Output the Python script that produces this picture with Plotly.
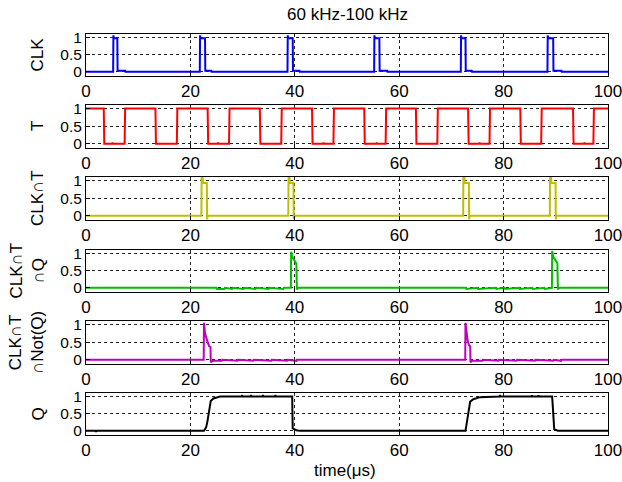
import plotly.graph_objects as go

# ---- signal traces (time in microseconds, logic level 0..1) ----
clk_t = [0, 5.2, 5.25, 5.35, 6.0, 6.05, 7.5, 7.55,
         21.8, 21.85, 21.95, 22.8, 22.85, 24.0, 24.05,
         38.6, 38.65, 38.75, 39.6, 39.65, 40.9, 40.95,
         55.2, 55.25, 55.35, 56.2, 56.25, 57.7, 57.75,
         71.8, 71.85, 71.95, 72.7, 72.75, 73.9, 73.95,
         88.4, 88.45, 88.55, 89.5, 89.55, 91.1, 91.15, 100]
clk_v = [0, 0, 1.06, 0.98, 0.98, 0.03, 0.03, 0,
         0, 1.06, 0.98, 0.98, 0.03, 0.03, 0,
         0, 1.06, 0.98, 0.98, 0.03, 0.03, 0,
         0, 1.06, 0.98, 0.98, 0.03, 0.03, 0,
         0, 1.06, 0.98, 0.98, 0.03, 0.03, 0,
         0, 1.06, 0.98, 0.98, 0.03, 0.03, 0, 0]

t_t = [0, 3.4, 3.5, 5.0, 5.1, 5.2, 7.4, 7.5, 13.3, 13.4, 17.4, 17.5,
       23.3, 23.4, 25.2, 25.3, 25.4, 27.4, 27.5, 33.3, 33.4, 37.4, 37.5,
       43.3, 43.4, 45.4, 45.5, 45.6, 47.4, 47.5, 53.3, 53.4, 55.6, 55.7, 55.8, 57.4, 57.5,
       63.2, 63.3, 67.3, 67.4, 73.2, 73.3, 75.3, 75.4, 75.5, 77.3, 77.4,
       83.2, 83.3, 87.2, 87.3, 93.3, 93.4, 95.4, 95.5, 95.6, 97.2, 97.3, 100]
t_v = [1, 1, 0, 0, 0.03, 0, 0, 1, 1, 0, 0, 1,
       1, 0, 0, 0.03, 0, 0, 1, 1, 0, 0, 1,
       1, 0, 0, 0.03, 0, 0, 1, 1, 0, 0, 0.03, 0, 0, 1,
       1, 0, 0, 1, 1, 0, 0, 0.03, 0, 0, 1,
       1, 0, 0, 1, 1, 0, 0, 0.03, 0, 0, 1, 1]

clk_and_t_t = [0, 22.1, 22.15, 22.35, 22.4, 23.15, 23.2, 23.3,
               38.75, 38.8, 39.0, 39.05, 39.75, 39.8, 39.9,
               72.25, 72.3, 72.5, 72.55, 73.35, 73.4, 73.5,
               88.85, 88.9, 89.1, 89.15, 89.95, 90.0, 90.1, 100]
clk_and_t_v = [0, 0, 1.07, 1.07, 0.93, 0.93, -0.1, 0,
               0, 1.07, 1.07, 0.93, 0.93, -0.1, 0,
               0, 1.07, 1.07, 0.93, 0.93, -0.1, 0,
               0, 1.07, 1.07, 0.93, 0.93, -0.1, 0, 0]

and_q_t = [0, 25.0, 25.1, 26.5, 26.6, 28.0, 28.1, 30.2, 30.3, 32.5, 32.6,
           35.0, 35.1, 37.8, 37.9, 39.25, 39.3, 39.5, 40.0, 40.3, 40.4, 40.6,
           72.8, 72.9, 75.0, 75.1, 78.5, 78.6, 80.2, 80.3, 83.0, 83.1,
           85.5, 85.6, 87.8, 87.9, 89.25, 89.3, 89.5, 90.0, 90.3, 90.4, 90.6, 100]
and_q_v = [0, 0, -0.03, -0.03, 0, -0.03, 0, -0.03, 0, -0.03, 0,
           -0.03, 0, -0.03, 0, 0, 1.05, 0.9, 0.78, 0.7, -0.05, 0,
           0, -0.03, 0, -0.03, 0, -0.03, 0, -0.03, 0, -0.03,
           0, -0.03, 0, -0.03, 0, 1.07, 0.9, 0.78, 0.72, -0.05, 0, 0]

and_notq_t = [0, 22.55, 22.6, 22.8, 23.3, 23.6, 23.85, 23.9, 24.3,
              26.0, 26.1, 29.0, 29.1, 32.0, 32.1, 35.5, 35.6, 38.5, 38.6, 40.3, 40.4,
              72.65, 72.7, 72.9, 73.1, 73.35, 73.6, 73.65, 74.0,
              76.0, 76.1, 79.0, 79.1, 82.5, 82.6, 86.0, 86.1, 89.5, 89.6, 91.0, 91.1, 100]
and_notq_v = [0, 0, 1.05, 0.75, 0.5, 0.38, 0.36, -0.07, -0.03,
              -0.03, 0, -0.03, 0, -0.03, 0, -0.03, 0, -0.03, 0, -0.03, 0,
              0, 1.05, 0.75, 0.55, 0.42, 0.38, -0.07, -0.03,
              -0.03, 0, -0.03, 0, -0.03, 0, -0.03, 0, -0.03, 0, -0.03, 0, 0]

q_t = [0, 1.8, 1.9, 2.0, 22.6, 23.0, 23.2, 23.6, 23.9, 24.4, 25.7,
       29.8, 29.9, 30.0, 31.5, 31.6, 31.7, 33.8, 33.9, 34.0, 36.2, 36.3, 36.4,
       39.5, 39.6, 40.3, 41.0,
       72.7, 72.9, 73.2, 73.6, 74.2, 75.5, 79.2, 79.3, 79.4,
       85.3, 85.4, 85.5, 86.6, 86.7, 86.8, 89.3, 89.7, 90.4, 100]
q_v = [0, 0, -0.03, 0, 0, 0.1, 0.22, 0.57, 0.87, 0.94, 1.0,
       1.0, 1.04, 1.0, 1.0, 1.04, 1.0, 1.0, 1.04, 1.0, 1.0, 1.04, 1.0,
       1.0, 0.07, 0.02, 0,
       0, 0.2, 0.52, 0.85, 0.92, 0.98, 1.0, 1.04, 1.0,
       1.0, 1.03, 1.0, 1.0, 1.03, 1.0, 1.0, 0.05, 0, 0]

x_ticks = [0, 20, 40, 60, 80, 100]
y_ticks = [0, 0.5, 1]
y_tick_text = ["0", "0.5", "1"]

panels = [
    (clk_t, clk_v, "#0000FF", "CLK"),
    (t_t, t_v, "#FF0000", "T"),
    (clk_and_t_t, clk_and_t_v, "#BFBF00", "CLK\u2229T"),
    (and_q_t, and_q_v, "#00BF00", "CLK\u2229T<br>\u2229Q"),
    (and_notq_t, and_notq_v, "#BF00BF", "CLK\u2229T<br>\u2229Not(Q)"),
    (q_t, q_v, "#000000", "Q"),
]

title_text = "60 kHz-100 kHz"
x_label = "time(\u03bcs)"

# ---- layout geometry ----
W, H = 622, 482
ML, MR, MT, MB = 86, 14, 34, 47
plot_h = H - MT - MB
panel_px = [(34, 76), (105, 148), (177, 220), (250, 292), (321, 364), (393, 435)]


def to_paper_y(py):
    return (H - MB - py) / plot_h


def to_paper_x(px):
    return (px - ML) / (W - ML - MR)


FONT = "Liberation Sans, Arial, sans-serif"
fig = go.Figure()
layout = dict(
    width=W, height=H,
    margin=dict(l=ML, r=MR, t=MT, b=MB, autoexpand=False),
    paper_bgcolor="white", plot_bgcolor="white",
    showlegend=False,
    font=dict(family=FONT, size=17, color="black"),
)
annotations = []

for i, (xs, ys, color, label) in enumerate(panels):
    n = i + 1
    xa = "x" if n == 1 else f"x{n}"
    ya = "y" if n == 1 else f"y{n}"
    fig.add_trace(go.Scatter(x=xs, y=ys, mode="lines", xaxis=xa, yaxis=ya,
                             line=dict(color=color, width=2), hoverinfo="skip"))
    top, bot = panel_px[i]
    axis_common = dict(
        showline=True, mirror=True, linecolor="black", linewidth=1,
        ticks="inside", ticklen=4, tickcolor="black",
        showgrid=True, gridcolor="#222222", gridwidth=1, griddash="3px,3px",
        zeroline=False, fixedrange=True, automargin=False,
    )
    layout["xaxis" if n == 1 else f"xaxis{n}"] = dict(
        axis_common, domain=[0, 1], anchor=ya, range=[0, 100],
        tickmode="array", tickvals=x_ticks, ticklabeloverflow="allow",
        tickfont=dict(family=FONT, size=17, color="black"),
    )
    layout["yaxis" if n == 1 else f"yaxis{n}"] = dict(
        axis_common, domain=[to_paper_y(bot), to_paper_y(top)], anchor=xa,
        range=[-0.12, 1.1], tickmode="array", tickvals=y_ticks, ticktext=y_tick_text,
        tickfont=dict(family=FONT, size=15.5, color="black"),
    )
    two_line = "<br>" in label
    annotations.append(dict(
        text=label, textangle=-90, showarrow=False,
        xref="paper", yref="paper",
        x=to_paper_x(26.5 if two_line else 37.5), y=to_paper_y((top + bot) / 2),
        xanchor="center", yanchor="middle",
        font=dict(family=FONT, size=17, color="black"),
    ))

annotations.append(dict(text=title_text, showarrow=False, xref="paper", yref="paper",
                        x=to_paper_x(347), y=to_paper_y(15), xanchor="center", yanchor="middle",
                        font=dict(family=FONT, size=17, color="black")))
annotations.append(dict(text=x_label, showarrow=False, xref="paper", yref="paper",
                        x=to_paper_x(345), y=to_paper_y(470), xanchor="center", yanchor="middle",
                        font=dict(family=FONT, size=17, color="black")))
layout["annotations"] = annotations

fig.update_layout(**layout)
fig.write_html("out.html", config={"displayModeBar": False})
